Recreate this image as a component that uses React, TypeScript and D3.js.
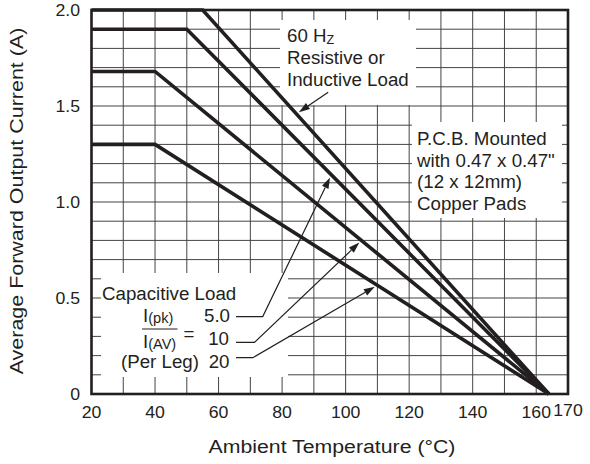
import React from "react";
import * as d3 from "d3";

// ---- data ----
const resistive: [number, number][] = [[20, 2.0], [55, 2.0], [164, 0]];
const cap5: [number, number][] = [[20, 1.9], [50, 1.9], [164, 0]];
const cap10: [number, number][] = [[20, 1.68], [40, 1.68], [164, 0]];
const cap20: [number, number][] = [[20, 1.3], [40, 1.3], [164, 0]];
const seriesList = [resistive, cap5, cap10, cap20];

const xTicks = [20, 40, 60, 80, 100, 120, 140, 160, 170];
const yTicks = [0, 0.5, 1.0, 1.5, 2.0];
const yTickLabels = ["0", "0.5", "1.0", "1.5", "2.0"];

const capLabels = ["5.0", "10", "20"];

// annotation arrows: tail (and optional elbow) in data units, tip on a curve at temperature `at`
const arrows = [
  { points: [[94.5, 1.571]] as [number, number][], curve: resistive, at: 84.5 },
  { points: [[65.5, 0.403], [73.9, 0.403]] as [number, number][], curve: cap5, at: 95.5 },
  { points: [[65.5, 0.269], [71.3, 0.269]] as [number, number][], curve: cap10, at: 105 },
  { points: [[65.5, 0.189], [70.8, 0.189]] as [number, number][], curve: cap20, at: 110 },
];

const W = 590;
const H = 464;
const FONT = "'Liberation Sans', Arial, Helvetica, sans-serif";
const INK = "#231f20";

const x = d3.scaleLinear().domain([20, 170]).range([91.5, 568]);
const y = d3.scaleLinear().domain([0, 2]).range([394, 10]);

function valueAt(curve: [number, number][], t: number) {
  for (let i = 0; i < curve.length - 1; i++) {
    const [x0, y0] = curve[i];
    const [x1, y1] = curve[i + 1];
    if (t >= x0 && t <= x1) return y0 + ((t - x0) / (x1 - x0)) * (y1 - y0);
  }
  return curve[curve.length - 1][1];
}

function Txt(props: {
  x: number;
  y: number;
  size?: number;
  anchor?: string;
  sx?: number;
  rotate?: number;
  children: React.ReactNode;
}) {
  const { size = 18, anchor = "start", sx = 1.04, rotate = 0 } = props;
  return (
    <text
      transform={`translate(${props.x},${props.y}) rotate(${rotate}) scale(${sx},1)`}
      fontSize={size}
      fontFamily={FONT}
      textAnchor={anchor}
      fill={INK}
    >
      {props.children}
    </text>
  );
}

export default function App() {
  const line = d3
    .line<[number, number]>()
    .x((d) => x(d[0]))
    .y((d) => y(d[1]));

  const gridX = d3.range(30, 170, 10);
  const gridY = d3.range(1, 20).map((i) => i / 10);

  const arrowEls = arrows.map((a, i) => {
    const pts = a.points.map(([t, v]) => [x(t), y(v)] as [number, number]);
    const tip: [number, number] = [x(a.at), y(valueAt(a.curve, a.at))];
    const last = pts[pts.length - 1];
    const dx = tip[0] - last[0];
    const dy = tip[1] - last[1];
    const len = Math.hypot(dx, dy);
    const ux = dx / len;
    const uy = dy / len;
    const tx = tip[0] - ux * 3;
    const ty = tip[1] - uy * 3;
    const hl = 11;
    const hw = 3.6;
    const bx = tx - ux * hl;
    const by = ty - uy * hl;
    const head = `M${tx},${ty} L${bx - uy * hw},${by + ux * hw} L${bx + uy * hw},${by - ux * hw} Z`;
    const path = [...pts, [bx, by]].map((p, j) => `${j ? "L" : "M"}${p[0]},${p[1]}`).join(" ");
    return (
      <g key={i}>
        <path d={path} fill="none" stroke={INK} strokeWidth={1.2} />
        <path d={head} fill={INK} stroke="none" />
      </g>
    );
  });

  return (
    <svg
      width={W}
      height={H}
      style={{ position: "absolute", left: 0, top: 0, background: "#fff" }}
    >
      <rect x={0} y={0} width={W} height={H} fill="#fff" />
      {/* grid */}
      {gridX.map((v) => (
        <line key={"gx" + v} x1={x(v)} x2={x(v)} y1={y(0)} y2={y(2)} stroke="#444" strokeWidth={1} />
      ))}
      {gridY.map((v) => (
        <line key={"gy" + v} x1={x(20)} x2={x(170)} y1={y(v)} y2={y(v)} stroke="#444" strokeWidth={1} />
      ))}
      {/* label backgrounds */}
      <rect x={280} y={20} width={136} height={85} fill="#fff" />
      <rect x={412} y={122} width={150} height={96} fill="#fff" />
      <rect x={101} y={273} width={187} height={104} fill="#fff" />
      {/* curves */}
      {seriesList.map((s, i) => (
        <path key={i} d={line(s) || ""} fill="none" stroke={INK} strokeWidth={3.6} strokeLinejoin="miter" />
      ))}
      {arrowEls}
      {/* frame */}
      <rect x={x(20)} y={y(2)} width={x(170) - x(20)} height={y(0) - y(2)} fill="none" stroke={INK} strokeWidth={2.6} />
      {/* tick labels */}
      {xTicks.map((v) => (
        <Txt key={"xt" + v} x={x(v)} y={v === 170 ? 416 : 418} size={17} anchor="middle">
          {String(v)}
        </Txt>
      ))}
      {yTicks.map((v, i) => (
        <Txt key={"yt" + v} x={80} y={y(v) + 6} size={17} anchor="end">
          {yTickLabels[i]}
        </Txt>
      ))}
      {/* axis titles */}
      <Txt x={332} y={453} size={19} sx={1.12} anchor="middle">Ambient Temperature (°C)</Txt>
      <Txt x={23} y={201} size={19} sx={1.13} anchor="middle" rotate={-90}>Average Forward Output Current (A)</Txt>
      {/* 60 Hz label */}
      <Txt x={287} y={42}>
        60 H<tspan fontSize={12} dy={1.5}>Z</tspan>
      </Txt>
      <Txt x={287} y={63.5}>Resistive or</Txt>
      <Txt x={287} y={86}>Inductive Load</Txt>
      {/* PCB label */}
      <Txt x={417} y={145}>P.C.B. Mounted</Txt>
      <Txt x={417} y={166.7}>with 0.47 x 0.47"</Txt>
      <Txt x={417} y={188.3}>(12 x 12mm)</Txt>
      <Txt x={417} y={210}>Copper Pads</Txt>
      {/* capacitive label */}
      <Txt x={102} y={300}>Capacitive Load</Txt>
      <Txt x={143} y={321.5}>
        I<tspan fontSize={14} dy={1.5}>(pk)</tspan>
      </Txt>
      <line x1={142} x2={177.5} y1={329} y2={329} stroke={INK} strokeWidth={1.2} />
      <Txt x={143} y={347.5}>
        I<tspan fontSize={14} dy={1.5}>(AV)</tspan>
      </Txt>
      <Txt x={189} y={339.5} anchor="middle">=</Txt>
      <Txt x={230} y={321.7} anchor="end">{capLabels[0]}</Txt>
      <Txt x={229} y={345} anchor="end">{capLabels[1]}</Txt>
      <Txt x={229.5} y={367.5} anchor="end">{capLabels[2]}</Txt>
      <Txt x={121} y={368}>(Per Leg)</Txt>
    </svg>
  );
}
